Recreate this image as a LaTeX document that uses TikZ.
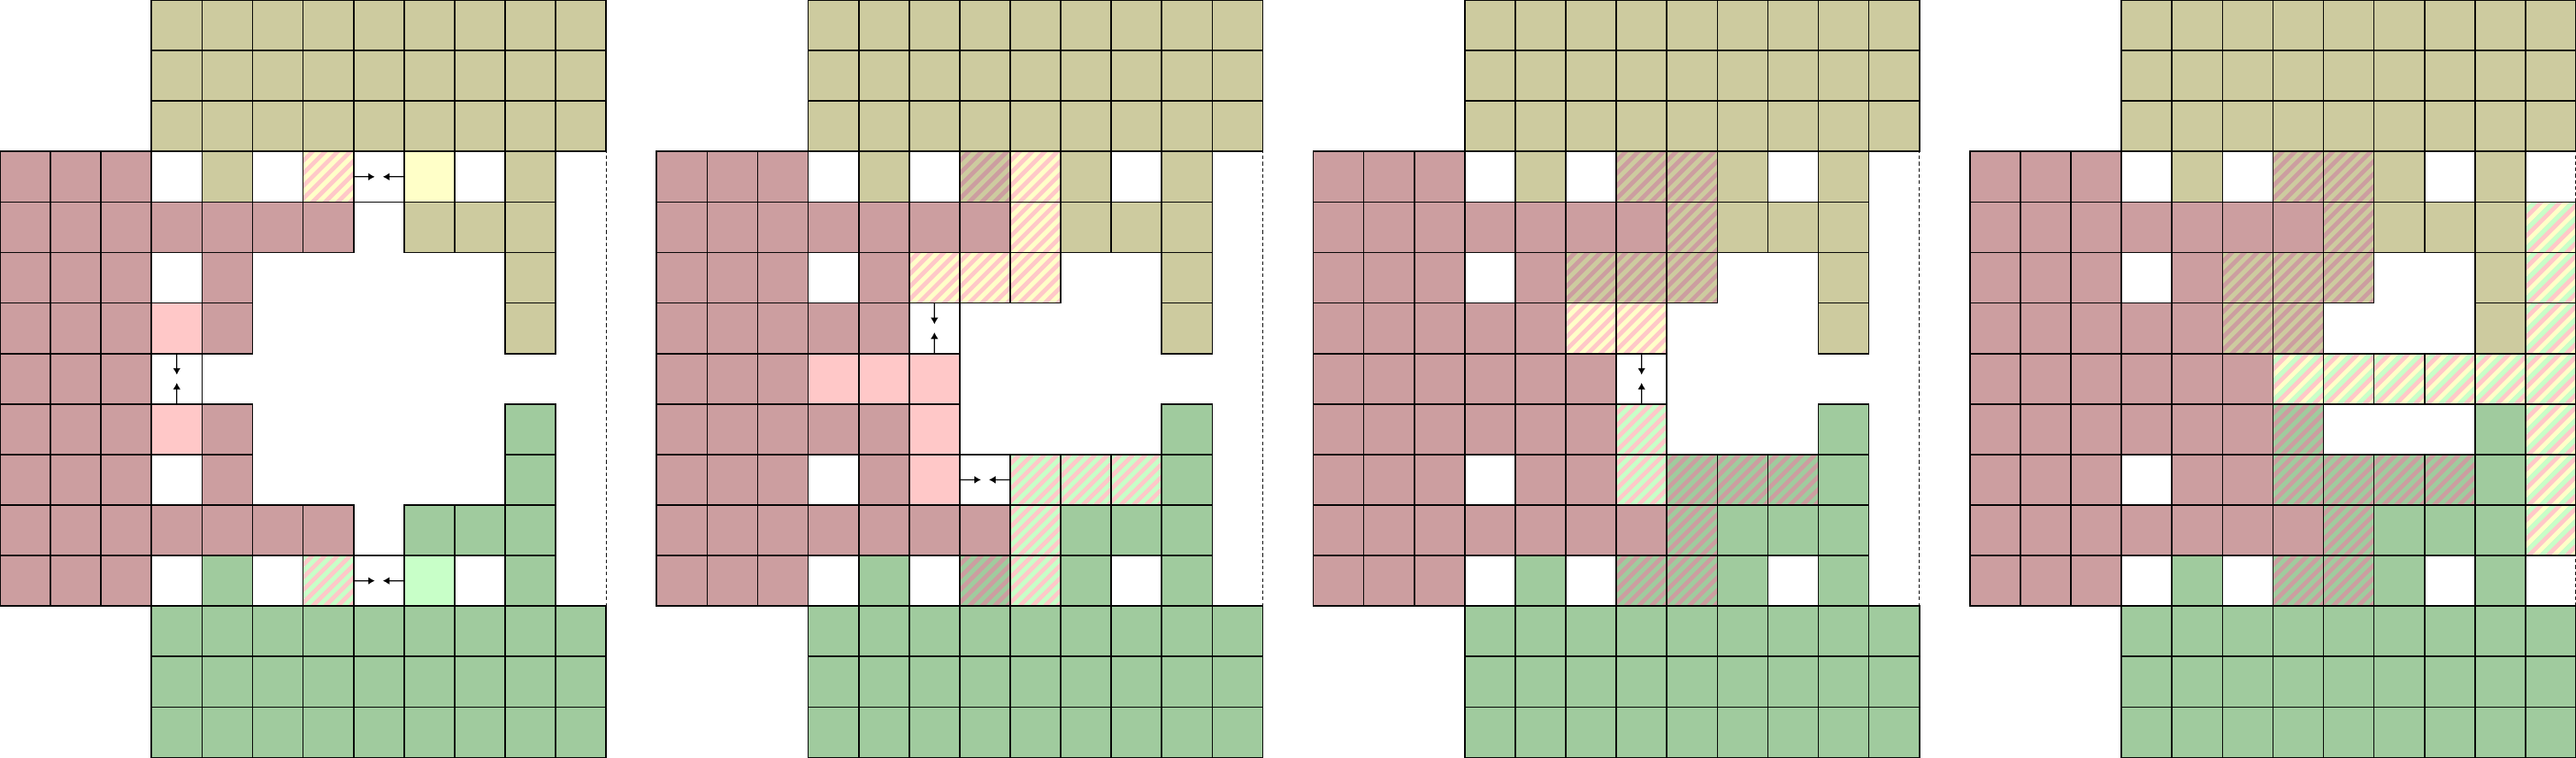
\documentclass[tikz,border=0pt]{standalone}
\usetikzlibrary{calc,arrows.meta}
\definecolor{roseC}{RGB}{204,158,160}
\definecolor{oliveC}{RGB}{205,203,159}
\definecolor{greenC}{RGB}{160,203,158}
\definecolor{lpink}{RGB}{255,200,200}
\definecolor{lyel}{RGB}{255,255,200}
\definecolor{lgrn}{RGB}{200,255,200}
\tikzset{
 cellb/.style={draw=black,line width=0.8pt},
 rosec/.style={cellb,fill=roseC},
 olivec/.style={cellb,fill=oliveC},
 greenc/.style={cellb,fill=greenC},
 lpc/.style={cellb,fill=lpink},
 lyc/.style={cellb,fill=lyel},
 lgc/.style={cellb,fill=lgrn},
 whitec/.style={cellb,fill=white},
 wcell/.style={rectangle,draw=black,fill=white,line width=0.8pt,minimum size=1cm,inner sep=0pt,outer sep=0pt},
 arr/.style={line width=0.6pt,-{Latex[length=3.7pt,width=4.3pt]}},
 bound/.style={line width=0.6pt,dash pattern=on 2pt off 1.5pt}
}
\newcommand\cells[2]{\foreach \xc/\yr in {#2}{\draw[#1] (\xc,14-\yr) rectangle ++(1,1);}}
\newcommand\hatchtwo[3]{\foreach \xc/\yr in {#3}{%
  \begin{scope}
   \clip (\xc,14-\yr) rectangle ++(1,1);
   \fill[#1] (\xc,14-\yr) rectangle ++(1,1);
   \foreach \k in {-5,...,4}{\fill[#2] (\xc+\k*0.25,14-\yr) -- ++(0.125,0) -- ++(1,1) -- ++(-0.125,0) -- cycle;}
  \end{scope}
  \draw[cellb] (\xc,14-\yr) rectangle ++(1,1);}}
\newcommand\hatchthree[4]{\foreach \xc/\yr in {#4}{%
  \begin{scope}
   \clip (\xc,14-\yr) rectangle ++(1,1);
   \fill[#1] (\xc,14-\yr) rectangle ++(1,1);
   \foreach \k in {-4,...,3}{%
     \fill[#2] (\xc+\k*0.375+0.125,14-\yr) -- ++(0.125,0) -- ++(1,1) -- ++(-0.125,0) -- cycle;
     \fill[#3] (\xc+\k*0.375+0.25,14-\yr) -- ++(0.125,0) -- ++(1,1) -- ++(-0.125,0) -- cycle;}
  \end{scope}
  \draw[cellb] (\xc,14-\yr) rectangle ++(1,1);}}
\newcommand\harr[3]{%
  \node[wcell] (#1) at (#2+0.5,14.5-#3) {};
  \coordinate (#1-l) at ($(#1.west)!0.42!(#1.east)$);
  \coordinate (#1-r) at ($(#1.east)!0.42!(#1.west)$);
  \draw[arr] (#1.west) -- (#1-l);
  \draw[arr] (#1.east) -- (#1-r);}
\newcommand\varr[3]{%
  \node[wcell] (#1) at (#2+0.5,14.5-#3) {};
  \coordinate (#1-t) at ($(#1.north)!0.42!(#1.south)$);
  \coordinate (#1-b) at ($(#1.south)!0.42!(#1.north)$);
  \draw[arr] (#1.north) -- (#1-t);
  \draw[arr] (#1.south) -- (#1-b);}
\newcommand\common{%
  \draw[bound] (3,3) rectangle (12,12);
  \foreach \yr in {0,1,2}{\foreach \xc in {3,...,11}{\draw[olivec] (\xc,14-\yr) rectangle ++(1,1);}}
  \foreach \yr in {12,13,14}{\foreach \xc in {3,...,11}{\draw[greenc] (\xc,14-\yr) rectangle ++(1,1);}}
  \foreach \yr in {3,...,11}{\foreach \xc in {0,1,2}{\draw[rosec] (\xc,14-\yr) rectangle ++(1,1);}}
  \cells{whitec}{3/3,5/3,9/3,3/5,3/9,3/11,5/11,9/11}
  \cells{olivec}{4/3,10/3,8/4,9/4,10/4,10/5,10/6}
  \cells{rosec}{3/4,4/4,5/4,6/4,4/5,4/6,4/8,4/9,3/10,4/10,5/10,6/10}
  \cells{greenc}{10/8,10/9,8/10,9/10,10/10,4/11,10/11}}
\begin{document}
\begin{tikzpicture}
\useasboundingbox (0,0) rectangle (51,15);
% ---------- panel 1 ----------
\begin{scope}
  \common
  \hatchtwo{lpink}{lyel}{6/3}
  \cells{lyc}{8/3}
  \harr{pa}{7}{3}
  \cells{lpc}{3/6,3/8}
  \varr{pb}{3}{7}
  \hatchtwo{lpink}{lgrn}{6/11}
  \cells{lgc}{8/11}
  \harr{pc}{7}{11}
\end{scope}
% ---------- panel 2 ----------
\begin{scope}[xshift=13cm]
  \common
  \hatchtwo{roseC}{oliveC}{6/3}
  \hatchtwo{lpink}{lyel}{7/3,7/4,5/5,6/5,7/5}
  \cells{olivec}{8/3}
  \cells{rosec}{3/6,3/8}
  \varr{qa}{5}{6}
  \cells{lpc}{3/7,4/7,5/7,5/8,5/9}
  \harr{qb}{6}{9}
  \hatchtwo{lpink}{lgrn}{7/9,8/9,9/9,7/10,7/11}
  \hatchtwo{roseC}{greenC}{6/11}
  \cells{greenc}{8/11}
\end{scope}
% ---------- panel 3 ----------
\begin{scope}[xshift=26cm]
  \common
  \hatchtwo{roseC}{oliveC}{6/3,7/3,7/4,5/5,6/5,7/5}
  \cells{olivec}{8/3}
  \cells{rosec}{3/6,3/7,4/7,5/7,3/8,5/8,5/9}
  \hatchtwo{lpink}{lyel}{5/6,6/6}
  \varr{ra}{6}{7}
  \hatchtwo{lpink}{lgrn}{6/8,6/9}
  \hatchtwo{roseC}{greenC}{7/9,8/9,9/9,7/10,6/11,7/11}
  \cells{greenc}{8/11}
\end{scope}
% ---------- panel 4 ----------
\begin{scope}[xshift=39cm]
  \common
  \hatchtwo{roseC}{oliveC}{6/3,7/3,7/4,5/5,6/5,7/5,5/6,6/6}
  \cells{olivec}{8/3}
  \cells{rosec}{3/6,3/7,4/7,5/7,3/8,5/8,5/9}
  \hatchthree{lpink}{lyel}{lgrn}{11/4,11/5,11/6,6/7,7/7,8/7,9/7,10/7,11/7,11/8,11/9,11/10}
  \hatchtwo{roseC}{greenC}{6/8,6/9,7/9,8/9,9/9,7/10,6/11,7/11}
  \cells{greenc}{8/11}
  \fill[white] (11,11) rectangle (12,12);
  \draw[cellb] (12,12) -- (11,12) -- (11,11) -- (12,11);
  \fill[white] (11,3) rectangle (12,4);
  \draw[cellb] (12,4) -- (11,4) -- (11,3) -- (12,3);
  \draw[bound] (12,3) -- (12,12);
\end{scope}
\end{tikzpicture}
\end{document}
